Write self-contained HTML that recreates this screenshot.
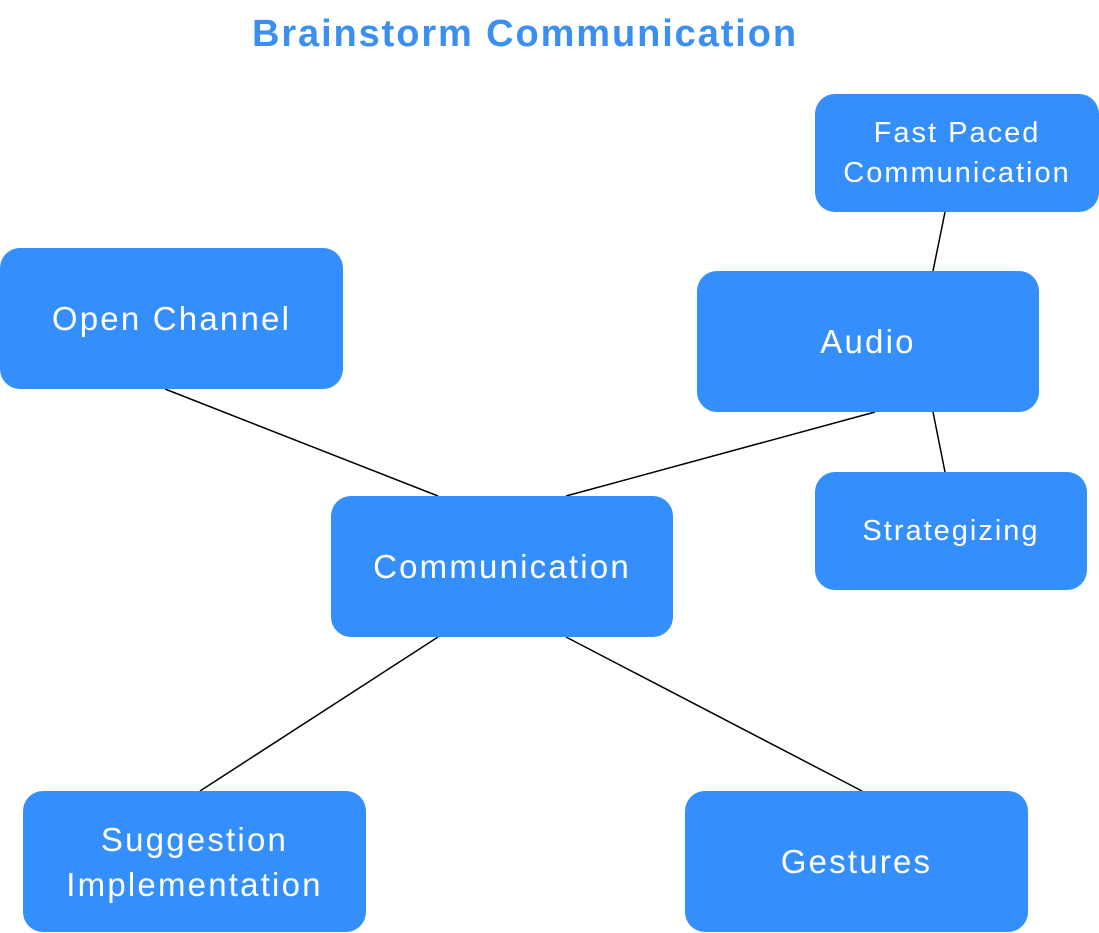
<!DOCTYPE html>
<html><head><meta charset="utf-8"><style>
body{margin:0;width:1099px;height:933px;background:#fff;position:relative;overflow:hidden;font-family:"Liberation Sans",sans-serif}
.t{position:absolute;left:0;width:1050px;top:13px;text-align:center;font-weight:bold;font-size:38px;color:#3a8ff0;letter-spacing:1.9px}
.b{position:absolute;background:#348ffc;border-radius:20px;color:#fff;display:flex;align-items:center;justify-content:center;text-align:center;font-size:33px;line-height:45px;letter-spacing:2.2px}
.s{font-size:29px;line-height:40px;letter-spacing:2px}
svg{position:absolute;left:0;top:0}
</style></head><body>
<div class="t">Brainstorm Communication</div>
<svg width="1099" height="933"><g stroke="#000" stroke-width="1.5">
<line x1="165" y1="389" x2="438" y2="496"/><line x1="566" y1="496" x2="875" y2="412"/>
<line x1="933" y1="271" x2="945" y2="212"/><line x1="933" y1="412" x2="945" y2="472"/>
<line x1="438" y1="637" x2="200" y2="791"/><line x1="566" y1="637" x2="862" y2="791"/></g></svg>
<div class="b" style="left:0;top:248px;width:343px;height:141px">Open Channel</div>
<div class="b" style="left:697px;top:271px;width:342px;height:141px">Audio</div>
<div class="b s" style="left:815px;top:94px;width:284px;height:118px">Fast Paced<br>Communication</div>
<div class="b s" style="left:815px;top:472px;width:272px;height:118px">Strategizing</div>
<div class="b" style="left:331px;top:496px;width:342px;height:141px">Communication</div>
<div class="b" style="left:23px;top:791px;width:343px;height:141px">Suggestion<br>Implementation</div>
<div class="b" style="left:685px;top:791px;width:343px;height:141px">Gestures</div>
</body></html>
